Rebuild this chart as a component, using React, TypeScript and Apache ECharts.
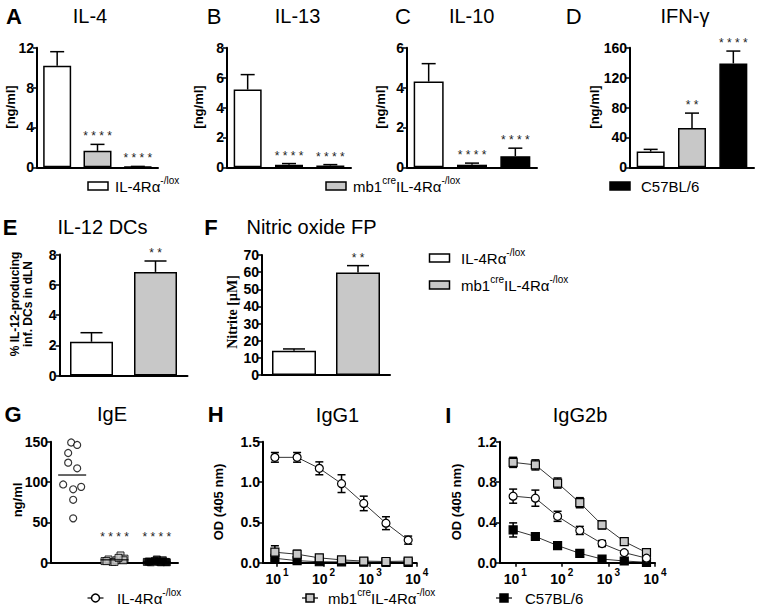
import React, { useEffect, useRef } from 'react';
import * as echarts from 'echarts';

const SANS = '"Liberation Sans", Arial, Helvetica, sans-serif';
const SERIF = '"Liberation Serif", "Times New Roman", serif';

// ---------- data ----------
const groups = ['IL-4Rα-/lox', 'mb1creIL-4Rα-/lox', 'C57BL/6'];
const groupsEF = ['IL-4Rα-/lox', 'mb1creIL-4Rα-/lox'];

const il4Mean = [10.2, 1.65, 0.06];
const il4Sem = [1.4, 0.65, 0.03];
const il4Sig = ['', '****', '****'];

const il13Mean = [5.2, 0.17, 0.12];
const il13Sem = [1.0, 0.08, 0.06];
const il13Sig = ['', '****', '****'];

const il10Mean = [4.3, 0.13, 0.56];
const il10Sem = [0.9, 0.08, 0.4];
const il10Sig = ['', '****', '****'];

const ifngMean = [21, 52.5, 139];
const ifngSem = [3, 20, 16.5];
const ifngSig = ['', '**', '****'];

const il12dcMean = [2.23, 6.85];
const il12dcSem = [0.6, 0.72];
const il12dcSig = ['', '**'];

const nitriteMean = [14.2, 59.8];
const nitriteSem = [1.0, 4.0];
const nitriteSig = ['', '**'];

const igeWT = [149, 146, 136, 124, 117, 97, 94, 91, 78, 55];
const igeMb1 = [2, 4, 1, 3, 9, 5, 2, 1, 3, 6];
const igeB6 = [1, 0.5, 2, 1, 3, 0.5, 1.5, 4, 1, 0.5];
const igeSig = ['', '****', '****'];

const dilution = [9, 27, 81, 243, 729, 2187, 6561];
const xTicks = [10, 100, 1000, 10000];

const igg1WT = [1.306, 1.306, 1.17, 0.98, 0.735, 0.49, 0.28];
const igg1WTSem = [0.06, 0.06, 0.08, 0.11, 0.09, 0.08, 0.05];
const igg1Mb1 = [0.13, 0.105, 0.06, 0.035, 0.02, 0.015, 0.02];
const igg1Mb1Sem = [0.08, 0.05, 0.02, 0.01, 0.01, 0.01, 0.01];
const igg1B6 = [0.055, 0.025, 0.012, 0.01, 0.006, 0.005, 0.004];
const igg1B6Sem = [0.03, 0.01, 0.005, 0.004, 0.003, 0.003, 0.003];

const igg2bWT = [0.66, 0.64, 0.46, 0.32, 0.19, 0.1, 0.045];
const igg2bWTSem = [0.07, 0.08, 0.05, 0.04, 0.03, 0.015, 0.01];
const igg2bMb1 = [0.995, 0.97, 0.79, 0.595, 0.375, 0.21, 0.1];
const igg2bMb1Sem = [0.05, 0.05, 0.05, 0.05, 0.04, 0.02, 0.015];
const igg2bB6 = [0.325, 0.26, 0.17, 0.093, 0.036, 0.017, 0.004];
const igg2bB6Sem = [0.07, 0.01, 0.01, 0.008, 0.005, 0.004, 0.003];

// ---------- styles ----------
const FILLS = ['#ffffff', '#c8c8c8', '#000000'];
const JIT_WT = [-1, 5, -4, -4, 5, -9, 9, 1, 1, 1];
const JIT_SQ = [-10, -6, -2, 2, 6, 10, -8, 0, 9, 4];

const mean = (a: number[]) => a.reduce((s, v) => s + v, 0) / a.length;

export default function App() {
  const ref = useRef<HTMLDivElement>(null);
  useEffect(() => {
    if (!ref.current) return;
    const chart = echarts.init(ref.current, null, { renderer: 'svg' });
    const ctx = document.createElement('canvas').getContext('2d')!;
    const tw = (t: string, f: string) => {
      ctx.font = f;
      return ctx.measureText(t).width;
    };

    const txt = (x: number, y: number, text: string, font: string, extra: any = {}) => ({
      type: 'text',
      x,
      y,
      silent: true,
      ...extra,
      style: { text, font, fill: '#000', align: 'center', verticalAlign: 'middle' },
    });

    const supText = (x: number, y: number, parts: [string, boolean][], size: number) => {
      let cx = x;
      const out: any[] = [];
      parts.forEach(([t, sup]) => {
        const f = `${sup ? Math.round(size * 0.68) : size}px ${SANS}`;
        out.push({
          type: 'text',
          x: cx,
          y: sup ? y - size * 0.4 : y,
          silent: true,
          style: { text: t, font: f, fill: '#000', align: 'left', verticalAlign: 'middle' },
        });
        cx += tw(t, f);
      });
      return out;
    };

    const wtParts: [string, boolean][] = [['IL-4Rα', false], ['-/lox', true]];
    const mbParts: [string, boolean][] = [['mb1', false], ['cre', true], ['IL-4Rα', false], ['-/lox', true]];
    const b6Parts: [string, boolean][] = [['C57BL/6', false]];

    const grids: any[] = [];
    const xAxes: any[] = [];
    const yAxes: any[] = [];
    const series: any[] = [];

    const axisLine = { show: true, lineStyle: { color: '#000', width: 2 } };
    const yLabel = (fmt?: (v: number) => string) => ({
      fontFamily: SANS,
      fontWeight: 'bold',
      fontSize: 14,
      color: '#000',
      margin: 3,
      formatter: fmt,
    });
    const yTick = { show: true, length: 4, lineStyle: { color: '#000', width: 1.5 } };

    const addBarPanel = (
      g: any,
      cats: string[],
      vals: number[],
      sem: number[],
      sig: string[],
      max: number,
      interval: number,
      barW: number,
      capHalf: number
    ) => {
      const i = grids.length;
      grids.push(g);
      xAxes.push({
        type: 'category',
        gridIndex: i,
        data: cats,
        axisLine,
        axisTick: { show: false },
        axisLabel: { show: false },
      });
      yAxes.push({
        type: 'value',
        gridIndex: i,
        min: 0,
        max,
        interval,
        axisLine,
        axisTick: yTick,
        axisLabel: yLabel(),
        splitLine: { show: false },
      });
      series.push({
        type: 'bar',
        xAxisIndex: i,
        yAxisIndex: i,
        barWidth: barW,
        silent: true,
        data: vals.map((v, k) => ({
          value: v,
          itemStyle: { color: FILLS[k], borderColor: '#000', borderWidth: 1.5 },
        })),
      });
      series.push({
        type: 'custom',
        xAxisIndex: i,
        yAxisIndex: i,
        silent: true,
        z: 5,
        data: vals.map((v, k) => [k, v, v + sem[k]]),
        renderItem: (params: any, api: any) => {
          const k = api.value(0);
          const a = api.coord([k, api.value(1)]);
          const b = api.coord([k, api.value(2)]);
          const st = { stroke: '#000', lineWidth: 1.5 };
          const s = sig[params.dataIndex] || '';
          return {
            type: 'group',
            children: [
              { type: 'line', shape: { x1: a[0], y1: a[1], x2: b[0], y2: b[1] }, style: st },
              { type: 'line', shape: { x1: b[0] - capHalf, y1: b[1], x2: b[0] + capHalf, y2: b[1] }, style: st },
              {
                type: 'text',
                x: b[0],
                y: b[1] - 8,
                style: {
                  text: s.split('').join(' '),
                  font: `12px ${SANS}`,
                  fill: '#222',
                  align: 'center',
                  verticalAlign: 'middle',
                },
              },
            ],
          };
        },
      });
    };

    addBarPanel({ left: 37, top: 47.7, width: 121, height: 119.6 }, groups, il4Mean, il4Sem, il4Sig, 12, 4, 28, 7);
    addBarPanel({ left: 227, top: 47.7, width: 124, height: 119.6 }, groups, il13Mean, il13Sem, il13Sig, 8, 2, 28, 7);
    addBarPanel({ left: 407, top: 47.7, width: 130, height: 119.6 }, groups, il10Mean, il10Sem, il10Sig, 6, 2, 30, 7);
    addBarPanel({ left: 630, top: 47.7, width: 124, height: 119.6 }, groups, ifngMean, ifngSem, ifngSig, 160, 40, 28, 7);
    addBarPanel({ left: 59.5, top: 254.5, width: 128, height: 121 }, groupsEF, il12dcMean, il12dcSem, il12dcSig, 8, 2, 43, 11);
    addBarPanel({ left: 262, top: 255, width: 128, height: 120 }, groupsEF, nitriteMean, nitriteSem, nitriteSig, 70, 10, 44, 11);

    // ---- G: IgE scatter ----
    {
      const i = grids.length;
      grids.push({ left: 51, top: 441.7, width: 127, height: 121 });
      xAxes.push({
        type: 'category',
        gridIndex: i,
        data: groups,
        axisLine,
        axisTick: { show: false },
        axisLabel: { show: false },
      });
      yAxes.push({
        type: 'value',
        gridIndex: i,
        min: 0,
        max: 150,
        interval: 50,
        axisLine,
        axisTick: yTick,
        axisLabel: yLabel(),
        splitLine: { show: false },
      });
      const pts = (arr: number[], cat: number, jit: number[]) =>
        arr.map((v, k) => ({ value: [cat, v], symbolOffset: [jit[k % jit.length], 0] }));
      series.push({
        type: 'scatter',
        xAxisIndex: i,
        yAxisIndex: i,
        symbol: 'rect',
        symbolSize: 7,
        silent: true,
        itemStyle: { color: '#000', borderColor: '#000', borderWidth: 1 },
        data: pts(igeB6, 2, JIT_SQ),
      });
      series.push({
        type: 'scatter',
        xAxisIndex: i,
        yAxisIndex: i,
        symbol: 'rect',
        symbolSize: 7,
        silent: true,
        itemStyle: { color: '#c8c8c8', borderColor: '#000', borderWidth: 1 },
        data: pts(igeMb1, 1, JIT_SQ),
      });
      series.push({
        type: 'scatter',
        xAxisIndex: i,
        yAxisIndex: i,
        symbol: 'circle',
        symbolSize: 7,
        silent: true,
        itemStyle: { color: '#fff', borderColor: '#000', borderWidth: 1.2 },
        data: pts(igeWT, 0, JIT_WT),
      });
      series.push({
        type: 'scatter',
        xAxisIndex: i,
        yAxisIndex: i,
        symbol: 'rect',
        symbolSize: [28, 1.5],
        silent: true,
        z: 6,
        itemStyle: { color: '#000' },
        data: [
          [0, mean(igeWT)],
          [1, mean(igeMb1)],
          [2, mean(igeB6)],
        ],
      });
      series.push({
        type: 'custom',
        xAxisIndex: i,
        yAxisIndex: i,
        silent: true,
        data: igeSig.map((s, k) => [k, 0]),
        renderItem: (params: any, api: any) => {
          const p = api.coord([api.value(0), 0]);
          const s = igeSig[params.dataIndex] || '';
          return {
            type: 'text',
            x: p[0],
            y: p[1] - 26,
            style: {
              text: s.split('').join(' '),
              font: `12px ${SANS}`,
              fill: '#222',
              align: 'center',
              verticalAlign: 'middle',
            },
          };
        },
      });
    }

    // ---- H, I: dilution curves ----
    const addCurvePanel = (
      g: any,
      min: number,
      ymax: number,
      yint: number,
      sets: { vals: number[]; sem: number[]; symbol: string; fill: string }[]
    ) => {
      const i = grids.length;
      grids.push(g);
      xAxes.push({
        type: 'log',
        logBase: 10,
        gridIndex: i,
        min,
        max: 10000,
        axisLine,
        axisTick: { show: true, length: 4, customValues: xTicks, lineStyle: { color: '#000', width: 1.5 } },
        axisLabel: {
          customValues: xTicks,
          color: '#000',
          margin: 5,
          formatter: (v: number) => {
            const e = Math.round(Math.log10(v));
            if (Math.abs(Math.log10(v) - e) > 1e-6) return '';
            return `{b|10}{s|${e}}`;
          },
          rich: {
            b: {
              fontFamily: SANS,
              fontWeight: 'bold',
              fontSize: 14,
              lineHeight: 18,
              verticalAlign: 'bottom',
              color: '#000',
            },
            s: {
              fontFamily: SANS,
              fontWeight: 'bold',
              fontSize: 10,
              lineHeight: 11,
              verticalAlign: 'top',
              padding: [0, 0, 0, 2],
              color: '#000',
            },
          },
        },
        splitLine: { show: false },
        minorTick: { show: false },
      });
      yAxes.push({
        type: 'value',
        gridIndex: i,
        min: 0,
        max: ymax,
        interval: yint,
        axisLine,
        axisTick: yTick,
        axisLabel: yLabel((v: number) => v.toFixed(1)),
        splitLine: { show: false },
      });
      sets.forEach((s, idx) => {
        series.push({
          type: 'custom',
          xAxisIndex: i,
          yAxisIndex: i,
          silent: true,
          z: 2 + idx * 2,
          data: dilution.map((d, k) => [d, s.vals[k], s.sem[k]]),
          renderItem: (params: any, api: any) => {
            const x = api.value(0);
            const y = api.value(1);
            const e = api.value(2);
            const a = api.coord([x, y + e]);
            const b = api.coord([x, Math.max(y - e, 0)]);
            const h = 4;
            const st = { stroke: '#000', lineWidth: 1.5 };
            return {
              type: 'group',
              children: [
                { type: 'line', shape: { x1: a[0], y1: a[1], x2: b[0], y2: b[1] }, style: st },
                { type: 'line', shape: { x1: a[0] - h, y1: a[1], x2: a[0] + h, y2: a[1] }, style: st },
                { type: 'line', shape: { x1: b[0] - h, y1: b[1], x2: b[0] + h, y2: b[1] }, style: st },
              ],
            };
          },
        });
        series.push({
          type: 'line',
          xAxisIndex: i,
          yAxisIndex: i,
          silent: true,
          z: 3 + idx * 2,
          symbol: s.symbol,
          symbolSize: 8,
          showSymbol: true,
          showAllSymbol: true,
          itemStyle: { color: s.fill, borderColor: '#000', borderWidth: 1.2 },
          lineStyle: { color: '#000', width: 0.8 },
          data: dilution.map((d, k) => [d, s.vals[k]]),
        });
      });
    };

    addCurvePanel({ left: 263, top: 441.7, width: 153.7, height: 121 }, 5, 1.5, 0.5, [
      { vals: igg1B6, sem: igg1B6Sem, symbol: 'rect', fill: '#000' },
      { vals: igg1Mb1, sem: igg1Mb1Sem, symbol: 'rect', fill: '#c8c8c8' },
      { vals: igg1WT, sem: igg1WTSem, symbol: 'circle', fill: '#fff' },
    ]);
    addCurvePanel({ left: 500, top: 441.7, width: 155, height: 121 }, 4.7, 1.2, 0.4, [
      { vals: igg2bB6, sem: igg2bB6Sem, symbol: 'rect', fill: '#000' },
      { vals: igg2bMb1, sem: igg2bMb1Sem, symbol: 'rect', fill: '#c8c8c8' },
      { vals: igg2bWT, sem: igg2bWTSem, symbol: 'circle', fill: '#fff' },
    ]);

    // ---- graphic texts ----
    const LB = `bold 22px ${SANS}`;
    const LN = `22px ${SANS}`;
    const TT = `20px ${SANS}`;
    const YL = `bold 13px ${SANS}`;
    const rot = { rotation: Math.PI / 2 };
    const g: any[] = [
      txt(14, 16, 'A', LB),
      txt(90, 16, 'IL-4', TT),
      txt(214, 16, 'B', LN),
      txt(297.5, 16, 'IL-13', TT),
      txt(403, 16, 'C', LN),
      txt(471.7, 16, 'IL-10', TT),
      txt(573.7, 16, 'D', LN),
      txt(685, 16, 'IFN-γ', TT),
      txt(10, 227, 'E', LB),
      txt(102.5, 227, 'IL-12 DCs', TT),
      txt(211, 227, 'F', LB),
      txt(311.5, 227, 'Nitric oxide FP', TT),
      txt(13, 414, 'G', LB),
      txt(112, 414, 'IgE', TT),
      txt(215.8, 414, 'H', LB),
      txt(337.5, 415, 'IgG1', TT),
      txt(448.3, 415, 'I', LB),
      txt(580, 415, 'IgG2b', TT),
      txt(10, 107, '[ng/ml]', YL, rot),
      txt(198, 107, '[ng/ml]', YL, rot),
      txt(380, 107, '[ng/ml]', YL, rot),
      txt(594, 107, '[ng/ml]', YL, rot),
      {
        type: 'text',
        x: 21,
        y: 304,
        rotation: Math.PI / 2,
        silent: true,
        style: {
          text: '% IL-12-producing\ninf. DCs in dLN',
          font: `bold 12px ${SANS}`,
          lineHeight: 13,
          fill: '#000',
          align: 'center',
          verticalAlign: 'middle',
        },
      },
      txt(232, 312, 'Nitrite [μM]', `bold 14px ${SERIF}`, rot),
      txt(17, 500, 'ng/ml', YL, rot),
      txt(218, 502, 'OD (405 nm)', YL, rot),
      txt(456, 502, 'OD (405 nm)', YL, rot),
    ];

    const box = (x: number, y: number, fill: string) => ({
      type: 'rect',
      silent: true,
      shape: { x, y, width: 20, height: 8 },
      style: { fill, stroke: '#000', lineWidth: 1.5 },
    });
    // legend row 1
    g.push(box(88, 182, FILLS[0]), ...supText(115, 186, wtParts, 15));
    g.push(box(326, 182, FILLS[1]), ...supText(353, 186, mbParts, 15));
    g.push(box(610, 182, FILLS[2]), ...supText(641, 186, b6Parts, 15));
    // legend E/F
    g.push(box(429.5, 254, FILLS[0]), ...supText(461, 258, wtParts, 15));
    g.push(box(429.5, 281, FILLS[1]), ...supText(461, 285, mbParts, 15));
    // legend row 3
    const symLeg = (cx: number, cy: number, kind: string, fill: string) => {
      const out: any[] = [
        {
          type: 'line',
          silent: true,
          shape: { x1: cx - 8, y1: cy, x2: cx + 8, y2: cy },
          style: { stroke: '#000', lineWidth: 1.2 },
        },
      ];
      if (kind === 'circle')
        out.push({
          type: 'circle',
          silent: true,
          shape: { cx, cy, r: 4 },
          style: { fill, stroke: '#000', lineWidth: 1.5 },
        });
      else
        out.push({
          type: 'rect',
          silent: true,
          shape: { x: cx - 4, y: cy - 4, width: 8, height: 8 },
          style: { fill, stroke: '#000', lineWidth: 1.5 },
        });
      return out;
    };
    g.push(...symLeg(95.5, 598, 'circle', FILLS[0]), ...supText(117, 598, wtParts, 15));
    g.push(...symLeg(310, 598, 'rect', FILLS[1]), ...supText(328, 598, mbParts, 15));
    g.push(...symLeg(504, 598, 'rect', FILLS[2]), ...supText(525, 598, b6Parts, 15));

    chart.setOption({
      animation: false,
      backgroundColor: '#fff',
      grid: grids,
      xAxis: xAxes,
      yAxis: yAxes,
      series,
      graphic: { elements: g },
    });
    return () => chart.dispose();
  }, []);
  return (
    <div
      ref={ref}
      style={{ position: 'fixed', left: 0, top: 0, width: 757, height: 609, background: '#fff' }}
    />
  );
}
